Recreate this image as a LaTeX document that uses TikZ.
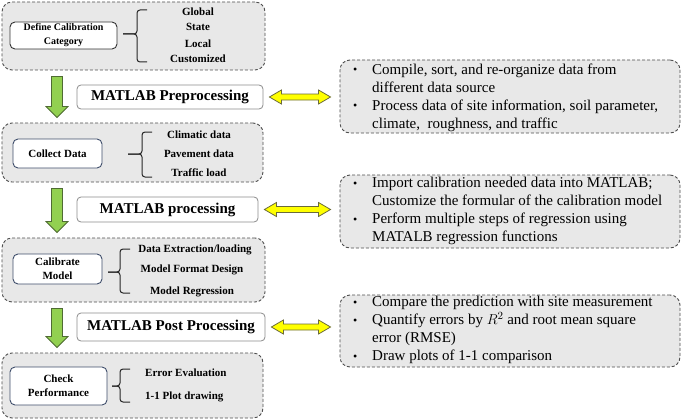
\documentclass[tikz,border=0pt]{standalone}
\usepackage{fontspec}
\setmainfont{Liberation Serif}
\usetikzlibrary{calc}
\definecolor{grayfill}{HTML}{E8E8E8}
\definecolor{dashcol}{HTML}{4D4D4D}
\definecolor{slate}{HTML}{3F4E6B}
\definecolor{mbord}{HTML}{8C8C8C}
\definecolor{gfill}{HTML}{92D050}
\definecolor{gbord}{HTML}{4F6B33}
\definecolor{yfill}{HTML}{FFFF00}
\definecolor{ybord}{HTML}{6B6B3A}
\newcommand\smbul{\makebox[19pt][l]{\raisebox{0.5pt}{\fontsize{12}{18}\selectfont\textbullet}}}
\tikzset{
 graybox/.style={draw=dashcol, fill=grayfill, dash pattern=on 3pt off 2pt, line width=0.9pt, rounded corners=10pt, inner sep=0pt},
 whitebox/.style={draw=slate, fill=white, line width=0.9pt, rounded corners=5pt, align=center, inner sep=0pt, font=\fontsize{11}{14}\selectfont\bfseries},
 mbox/.style={draw=mbord, fill=white, line width=0.8pt, rounded corners=4pt, inner sep=0pt, font=\fontsize{15}{18}\selectfont\bfseries},
 item/.style={font=\fontsize{11}{13}\selectfont\bfseries, inner sep=0pt},
 brace/.style={draw=black!85, line width=1pt, rounded corners=3pt},
 garrow/.style={fill=gfill, draw=gbord, line width=0.8pt, line join=miter},
 yarrow/.style={fill=yfill, draw=ybord, line width=0.8pt, line join=miter},
 bullets/.style={font=\fontsize{15}{18}\selectfont, inner sep=0pt, anchor=west},
}
\begin{document}
\begin{tikzpicture}[x=1pt,y=-1pt]
\useasboundingbox (0,0) rectangle (685,420);
% left gray boxes
\node[graybox, minimum width=263pt, minimum height=68pt] (B1) at (133.5,36) {};
\node[graybox, minimum width=261pt, minimum height=59pt] (B2) at (132.5,152.5) {};
\node[graybox, minimum width=263pt, minimum height=64pt] (B3) at (133.5,270) {};
\node[graybox, minimum width=261pt, minimum height=65pt] (B4) at (132.5,385.5) {};
% right gray boxes
\node[graybox, minimum width=340pt, minimum height=73pt] (R1) at (510,96.5) {};
\node[graybox, minimum width=340pt, minimum height=73pt] (R2) at (510,211.5) {};
\node[graybox, minimum width=340pt, minimum height=72pt] (R3) at (510,331) {};
% inner white boxes
\node[whitebox, draw=black!80, minimum width=107pt, minimum height=27pt, font=\fontsize{10}{14}\selectfont\bfseries] (I1) at (63.5,35.5) {Define Calibration\\Category};
\node[whitebox, minimum width=89pt, minimum height=29pt] (I2) at (57.5,153.5) {Collect Data};
\node[whitebox, minimum width=89pt, minimum height=30pt] (I3) at (57.5,269) {Calibrate\\Model};
\node[whitebox, minimum width=97pt, minimum height=38pt] (I4) at (58.5,386) {Check\\Performance};
% braces
\draw[brace] (147,10) -- (137,10) -- (137,34) -- (123,34);
\draw[brace] (147,62) -- (137,62) -- (137,34) -- (123,34);
\draw[brace] (152,132) -- (142,132) -- (142,154) -- (128,154);
\draw[brace] (152,177) -- (142,177) -- (142,154) -- (128,154);
\draw[brace] (130,249) -- (120,249) -- (120,272) -- (108,272);
\draw[brace] (130,293) -- (120,293) -- (120,272) -- (108,272);
\draw[brace] (130,369) -- (120,369) -- (120,386) -- (112,386);
\draw[brace] (130,402) -- (120,402) -- (120,386) -- (112,386);
% items
\node[item] (g1) at (198,11.7) {Global};
\node[item] (g2) at (198,27.3) {State};
\node[item] (g3) at (198,43.3) {Local};
\node[item] (g4) at (198,59) {Customized};
\node[item] (c1) at (199,135) {Climatic data};
\node[item] (c2) at (199,154) {Pavement data};
\node[item] (c3) at (199,173) {Traffic load};
\node[item] (m1) at (195,250) {Data Extraction/loading};
\node[item] (m2) at (192,270) {Model Format Design};
\node[item] (m3) at (192,292) {Model Regression};
\node[item, anchor=west] (p1) at (145,373) {Error Evaluation};
\node[item, anchor=west] (p2) at (145,397) {1-1 Plot drawing};
% MATLAB boxes
\node[mbox, minimum width=186pt, minimum height=24pt] (M1) at (170,97) {MATLAB Preprocessing};
\node[mbox, minimum width=181pt, minimum height=25pt] (M2) at (167.5,209.5) {MATLAB processing};
\node[mbox, minimum width=188pt, minimum height=28pt] (M3) at (171,327) {MATLAB Post Processing};
% right texts
\node[bullets] (T1) at (353,97.75) {\begin{tabular}{@{}l@{}l@{}}
\smbul & Compile, sort, and re-organize data from\\
\hspace{19pt} & different data source\\
\smbul & Process data of site information, soil parameter,\\
 & climate,\ \ roughness, and traffic
\end{tabular}};
\node[bullets] (T2) at (353,211.25) {\begin{tabular}{@{}l@{}l@{}}
\smbul & Import calibration needed data into MATLAB;\\
 & Customize the formular of the calibration model\\
\smbul & Perform multiple steps of regression using\\
 & MATALB regression functions
\end{tabular}};
\node[bullets] (T3) at (353,330) {\begin{tabular}{@{}l@{}l@{}}
\smbul & Compare the prediction with site measurement\\
\smbul & Quantify errors by $R^2$ and root mean square\\
 & error (RMSE)\\
\smbul & Draw plots of 1-1 comparison
\end{tabular}};
% green arrows
\foreach \a/\b in {B1/B2,B2/B3,B3/B4}{
\path[garrow] let \p1=(\a.south), \p2=(\b.north) in
 (51.5pt,\y1-6pt) -- (62.5pt,\y1-6pt) -- (62.5pt,\y2+16pt) -- (68pt,\y2+16pt) -- (57pt,\y2+5pt)
 -- (46pt,\y2+16pt) -- (51.5pt,\y2+16pt) -- cycle;
}
% yellow arrows
\foreach \a/\b in {M1/R1,M2/R2,M3/R3}{
\path[yarrow] let \p1=($(\a.east)+(6pt,0)$), \p2=($(\b.west)+(-9pt,0)$) in
 (\x1,\y1) -- (\x1+12pt,\y1+7pt) -- (\x1+12pt,\y1+3pt) -- (\x2-12pt,\y1+3pt) -- (\x2-12pt,\y1+7pt)
 -- (\x2,\y1) -- (\x2-12pt,\y1-7pt) -- (\x2-12pt,\y1-3pt) -- (\x1+12pt,\y1-3pt) -- (\x1+12pt,\y1-7pt) -- cycle;
}
\end{tikzpicture}
\end{document}
